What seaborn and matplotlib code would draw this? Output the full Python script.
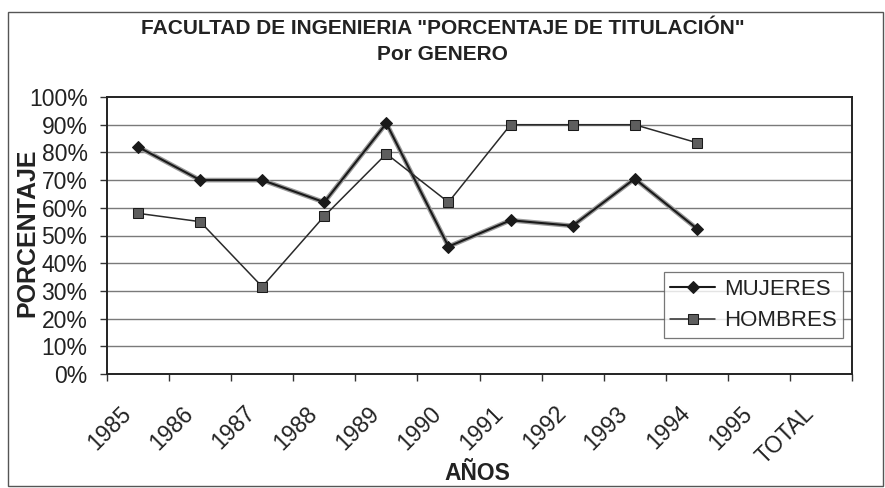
import matplotlib
matplotlib.use('Agg')
import matplotlib.pyplot as plt
import seaborn as sns
import pandas as pd
from matplotlib.patches import Rectangle
from matplotlib.ticker import PercentFormatter, FixedLocator, NullFormatter

# Data
years = ['1985', '1986', '1987', '1988', '1989', '1990', '1991', '1992', '1993', '1994', '1995', 'TOTAL']
mujeres = [82, 70, 70, 62, 90.5, 46, 55.5, 53.5, 70.5, 52.5, None, None]
hombres = [58, 55, 31.5, 57, 79.5, 62, 90, 90, 90, 83.5, None, None]

sns.set_theme(style='white')
plt.rcParams['font.family'] = ['Liberation Sans', 'DejaVu Sans']

df = pd.DataFrame({'pos': range(len(years)), 'MUJERES': mujeres, 'HOMBRES': hombres})

fig = plt.figure(figsize=(8.85, 4.88), dpi=100)
ax = fig.add_axes([107 / 885, 1 - 374 / 488, (852 - 107) / 885, (374 - 97) / 488])

# outer chart frame
fig.patches.append(Rectangle((8 / 885, 2 / 488), 875 / 885, 474 / 488, transform=fig.transFigure,
                             fill=False, edgecolor='#555555', linewidth=1.0))

for y in range(10, 100, 10):
    ax.axhline(y, color='#7a7a7a', linewidth=1.0, zorder=0)

# grey shadow under the women's line
sns.lineplot(data=df, x='pos', y='MUJERES', ax=ax, color='#9a9a9a', linewidth=3.4, zorder=2,
             legend=False)
sns.lineplot(data=df, x='pos', y='MUJERES', ax=ax, color='#1a1a1a', linewidth=1.5, marker='D',
             markersize=6.5, markeredgecolor='#1a1a1a', zorder=3, label='MUJERES')
sns.lineplot(data=df, x='pos', y='HOMBRES', ax=ax, color='#2a2a2a', linewidth=1.1, marker='s',
             markersize=7.5, markerfacecolor='#5e5e5e', markeredgecolor='#1a1a1a', zorder=3,
             label='HOMBRES')

ax.set_xlim(-0.5, len(years) - 0.5)
ax.set_ylim(0, 100)
ax.yaxis.set_major_locator(FixedLocator(range(0, 101, 10)))
ax.yaxis.set_major_formatter(PercentFormatter(decimals=0))
ax.set_xticks([i + 0.5 for i in range(-1, len(years))])
ax.xaxis.set_major_formatter(NullFormatter())
ax.set_xticks([i - 0.3 for i in range(len(years))], minor=True)
ax.set_xticklabels(years, minor=True, rotation=45, ha='right', rotation_mode='anchor', fontsize=16.5)
ax.tick_params(axis='x', which='minor', length=0, pad=20)
ax.tick_params(axis='x', which='major', direction='out', length=5, width=1, color='#333333', bottom=True)
ax.tick_params(axis='y', direction='out', length=5, width=1, color='#333333', left=True,
               labelsize=16.5, pad=9)

for s in ax.spines.values():
    s.set_color('#222222')
    s.set_linewidth(1.4)

ax.set_xlabel('')
ax.set_ylabel('')
fig.text(477 / 885, 1 - 474 / 488, 'AÑOS', ha='center', va='center', fontsize=16.5,
         fontweight='bold', color='#222222')
fig.text(27 / 885, 1 - 233 / 488, 'PORCENTAJE', ha='center', va='center', rotation=90,
         fontsize=18, fontweight='bold', color='#222222')

fig.text(0.5, 1 - 28 / 488, 'FACULTAD DE INGENIERIA "PORCENTAJE DE TITULACIÓN"', ha='center',
         va='center', fontsize=15, fontweight='bold', color='#222222')
fig.text(0.5, 1 - 55 / 488, 'Por GENERO', ha='center', va='center', fontsize=15, fontweight='bold',
         color='#222222')

leg = ax.legend(loc='lower right', bbox_to_anchor=(0.988, 0.13), fontsize=16, frameon=True,
                fancybox=False, edgecolor='#555555', borderpad=0.3, handlelength=2.0,
                handletextpad=0.4, labelspacing=0.47, borderaxespad=0)
leg.get_frame().set_linewidth(0.9)
for t in ax.get_yticklabels() + ax.get_xticklabels(minor=True) + leg.get_texts():
    t.set_color('#222222')

fig.savefig('out.png', dpi=100, facecolor='white')
